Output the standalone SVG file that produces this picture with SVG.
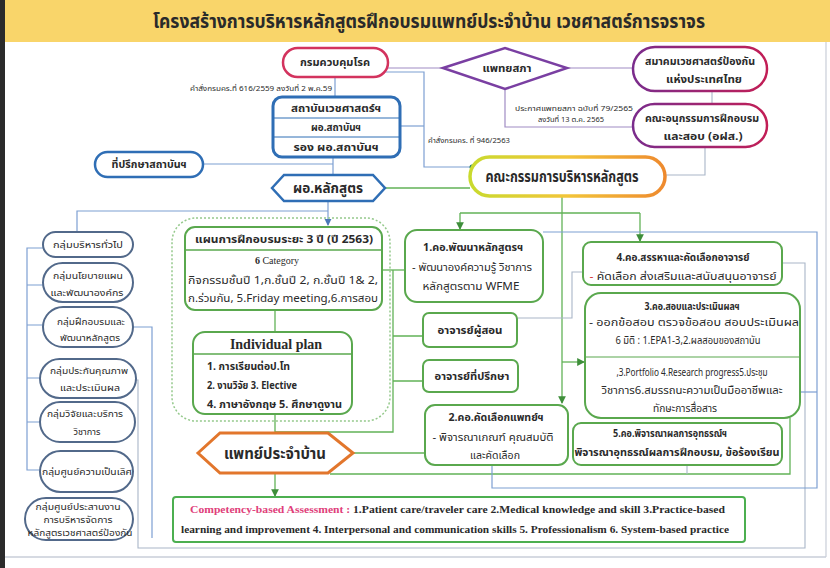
<svg xmlns="http://www.w3.org/2000/svg" width="830" height="568" viewBox="0 0 830 568">
<defs>
<style>
.th{font-family:'Noto Sans Thai','Noto Sans','DejaVu Sans',sans-serif;fill:#2a2a2a}
.se{font-family:'Liberation Serif','Noto Sans Thai',serif;fill:#2a2a2a}
.b{font-weight:bold}
.c{text-anchor:middle}
.gbox{fill:#fff;stroke:#5AA84E;stroke-width:2}
.lp{fill:#fff;stroke:#52698A;stroke-width:2}
.gl{fill:none;stroke:#62B257;stroke-width:1.3}
.bl{fill:none;stroke:#7D9FD2;stroke-width:1.2}
.pl{fill:none;stroke:#A08CC4;stroke-width:1.2}
.gy{fill:none;stroke:#A9B6C8;stroke-width:1.1}
</style>
<marker id="ag" viewBox="0 0 8 8" refX="7" refY="4" markerWidth="6" markerHeight="6" orient="auto"><path d="M0,0 L8,4 L0,8 z" fill="#3E8E3A"/></marker>
<marker id="ab" viewBox="0 0 8 8" refX="7" refY="4" markerWidth="6" markerHeight="6" orient="auto"><path d="M0,0 L8,4 L0,8 z" fill="#4A78B8"/></marker>
<linearGradient id="gOrange" x1="0" y1="0" x2="1" y2="0"><stop offset="0" stop-color="#C9DA2E"/><stop offset="0.5" stop-color="#F2C53A"/><stop offset="1" stop-color="#EE8A2E"/></linearGradient>
<linearGradient id="gPurple" x1="0" y1="0" x2="1" y2="0"><stop offset="0" stop-color="#7A2C8C"/><stop offset="1" stop-color="#C21E56"/></linearGradient>
</defs>
<rect x="0" y="0" width="830" height="568" fill="#fff"/>
<rect x="0" y="0" width="830" height="42" fill="#F9D56A"/>
<rect x="0" y="0" width="5" height="568" fill="#2b2b2b"/>
<line x1="826" y1="42" x2="826" y2="557" stroke="#C9CED8" stroke-width="1.2"/>
<line x1="5" y1="557" x2="826" y2="557" stroke="#C9CED8" stroke-width="1.5"/>
<text class="th b c" x="429" y="28" font-size="19" textLength="552" lengthAdjust="spacingAndGlyphs" fill="#3a2a12">โครงสร้างการบริหารหลักสูตรฝึกอบรมแพทย์ประจำบ้าน เวชศาสตร์การจราจร</text>

<g id="connectors">
<path class="bl" d="M335,76 V97"/>
<path class="bl" d="M333,157 V175"/>
<path class="bl" d="M203,164 H333"/>
<path class="pl" d="M386,68 H443"/>
<path class="bl" d="M384,72 H424 V167 H471"/>
<path class="bl" d="M400,126 H424"/>
<circle cx="472" cy="167" r="2.5" fill="#1E7A6A"/>
<path class="pl" d="M567,68 H632"/>
<path class="pl" d="M505,89 V127 H632"/>
<path class="gy" d="M712,91 V104"/>
<path class="gy" d="M705,147 V175 H665"/>
<path class="gl" d="M385,188 H470"/>
<path class="bl" d="M328,201 V225" marker-end="url(#ab)"/>
<path class="bl" d="M77,232 V211 H328"/>
<path class="bl" d="M43,248 H27 V470 H40 M27,285 H43 M27,325 H43 M27,378 H40 M27,422 H40"/>
<path class="bl" d="M133,327 H152 V538"/>
<path class="gy" d="M782,263 H805 V548 H138 V380 H135"/>
<path class="gl" d="M562,196 V403" marker-end="url(#ag)"/>
<path class="gl" d="M460,213 H640"/>
<path class="gl" d="M460,213 V229" marker-end="url(#ag)"/>
<path class="gl" d="M640,213 V241" marker-end="url(#ag)"/>
<path class="gl" d="M562,362 H584" marker-end="url(#ag)"/>
<path class="gl" d="M382,270 H405"/>
<path class="gl" d="M393,270 V432 H275"/>
<path class="gl" d="M393,336 H423 M393,381 H423"/>
<path class="gl" d="M275,310 V332"/>
<path class="gl" d="M275,414 V433"/>
<path class="gl" d="M275,473 V496" marker-end="url(#ag)"/>
<path class="gl" d="M353,453 H425"/>
<path class="gl" d="M330,474 H790 V418"/>
<path class="gy" d="M517,318 H572 V272 H583"/>
<path class="bl" d="M543,232 H817 V488 H492 V465"/>
<path class="bl" d="M800,392 H817"/>
<path class="gy" d="M687,465 V474"/>
</g>

<g id="n-kromkuabkum">
<rect x="283" y="48" width="105" height="29" rx="14.5" fill="#fff" stroke="#D3335E" stroke-width="2.5"/>
<text class="th b c" x="335" y="66" font-size="11" textLength="70" lengthAdjust="spacingAndGlyphs">กรมควบคุมโรค</text>
</g>
<text class="th" x="332" y="91" font-size="7" text-anchor="end" textLength="142" lengthAdjust="spacingAndGlyphs" fill="#555">คำสั่งกรมคร.ที่ 616/2559 ลงวันที่ 2 พ.ค.59</text>
<text class="th" x="428" y="143" font-size="7" textLength="82" lengthAdjust="spacingAndGlyphs" fill="#555">คำสั่งกรมคร. ที่ 946/2563</text>
<text class="th c" x="574" y="111" font-size="7" textLength="118" lengthAdjust="spacingAndGlyphs" fill="#555">ประกาศแพทยสภา ฉบับที่ 79/2565</text>
<text class="th c" x="571" y="122" font-size="7" textLength="66" lengthAdjust="spacingAndGlyphs" fill="#555">ลงวันที่ 13 ต.ค. 2565</text>

<g id="n-institute">
<rect x="273" y="97" width="127" height="60" rx="9" fill="#fff" stroke="#2F6EB5" stroke-width="3"/>
<line x1="273" y1="118" x2="400" y2="118" stroke="#2F6EB5" stroke-width="1"/>
<line x1="273" y1="137" x2="400" y2="137" stroke="#2F6EB5" stroke-width="1"/>
<text class="th b c" x="336" y="112" font-size="10.5" textLength="90" lengthAdjust="spacingAndGlyphs">สถาบันเวชศาสตร์ฯ</text>
<text class="th b c" x="336" y="131" font-size="10.5" textLength="50" lengthAdjust="spacingAndGlyphs">ผอ.สถาบันฯ</text>
<text class="th b c" x="336" y="151" font-size="10.5" textLength="85" lengthAdjust="spacingAndGlyphs">รอง ผอ.สถาบันฯ</text>
</g>

<g id="n-advisor">
<rect x="95" y="152" width="108" height="25" rx="12.5" fill="#fff" stroke="#2F6EB5" stroke-width="2.5"/>
<text class="th b c" x="149" y="168" font-size="10.5" textLength="75" lengthAdjust="spacingAndGlyphs">ที่ปรึกษาสถาบันฯ</text>
</g>

<g id="n-director">
<polygon points="272,188 284,175 373,175 385,188 373,201 284,201" fill="#fff" stroke="#2F6EB5" stroke-width="2.5"/>
<text class="th b c" x="328" y="193" font-size="14" textLength="70" lengthAdjust="spacingAndGlyphs">ผอ.หลักสูตร</text>
</g>

<g id="n-medcouncil">
<polygon points="443,68 505,48 567,68 505,89" fill="#fff" stroke="#7A3FA2" stroke-width="2.5"/>
<text class="th b c" x="507" y="72" font-size="10.5" textLength="49" lengthAdjust="spacingAndGlyphs">แพทยสภา</text>
</g>

<g id="n-association">
<rect x="633" y="47" width="134" height="44" rx="22" fill="#fff" stroke="url(#gPurple)" stroke-width="2.5"/>
<text class="th b c" x="700" y="65" font-size="10.5" textLength="110" lengthAdjust="spacingAndGlyphs">สมาคมเวชศาสตร์ป้องกัน</text>
<text class="th b c" x="704" y="83" font-size="10.5" textLength="76" lengthAdjust="spacingAndGlyphs">แห่งประเทศไทย</text>
</g>

<g id="n-subcommittee">
<rect x="633" y="104" width="134" height="43" rx="21.5" fill="#fff" stroke="url(#gPurple)" stroke-width="2.5"/>
<text class="th b c" x="702" y="122" font-size="10.5" textLength="114" lengthAdjust="spacingAndGlyphs">คณะอนุกรรมการฝึกอบรม</text>
<text class="th b c" x="703" y="140" font-size="10.5" textLength="79" lengthAdjust="spacingAndGlyphs">และสอบ (อฝส.)</text>
</g>

<g id="n-committee">
<rect x="470" y="157" width="195" height="39" rx="19.5" fill="#fff" stroke="url(#gOrange)" stroke-width="3.5"/>
<text class="th b c" x="562" y="182" font-size="15" textLength="153" lengthAdjust="spacingAndGlyphs">คณะกรรมการบริหารหลักสูตร</text>
</g>

<g id="n-group1">
<rect x="43" y="232" width="90" height="25" rx="12.5" class="lp"/>
<text class="th c" x="88" y="248" font-size="9.5" textLength="70" lengthAdjust="spacingAndGlyphs">กลุ่มบริหารทั่วไป</text>
</g>
<g id="n-group2">
<rect x="43" y="263" width="90" height="39" rx="19.5" class="lp"/>
<text class="th c" x="88" y="279" font-size="9.5" textLength="70" lengthAdjust="spacingAndGlyphs">กลุ่มนโยบายแผน</text>
<text class="th c" x="87" y="296" font-size="9.5" textLength="73" lengthAdjust="spacingAndGlyphs">และพัฒนาองค์กร</text>
</g>
<g id="n-group3">
<rect x="43" y="307" width="90" height="40" rx="20" class="lp"/>
<text class="th c" x="91" y="325" font-size="9.5" textLength="68" lengthAdjust="spacingAndGlyphs">กลุ่มฝึกอบรมและ</text>
<text class="th c" x="90" y="341" font-size="9.5" textLength="60" lengthAdjust="spacingAndGlyphs">พัฒนาหลักสูตร</text>
</g>
<g id="n-group4">
<rect x="40" y="359" width="96" height="39" rx="19.5" class="lp"/>
<text class="th c" x="89" y="374" font-size="9.5" textLength="78" lengthAdjust="spacingAndGlyphs">กลุ่มประกันคุณภาพ</text>
<text class="th c" x="90" y="391" font-size="9.5" textLength="60" lengthAdjust="spacingAndGlyphs">และประเมินผล</text>
</g>
<g id="n-group5">
<rect x="40" y="402" width="95" height="40" rx="20" class="lp"/>
<text class="th c" x="85" y="417" font-size="9.5" textLength="76" lengthAdjust="spacingAndGlyphs">กลุ่มวิจัยและบริการ</text>
<text class="th c" x="87" y="435" font-size="9.5" textLength="27" lengthAdjust="spacingAndGlyphs">วิชาการ</text>
</g>
<g id="n-group6">
<rect x="40" y="451" width="93" height="41" rx="20.5" class="lp"/>
<text class="th c" x="87" y="475" font-size="9.5" textLength="90" lengthAdjust="spacingAndGlyphs">กลุ่มศูนย์ความเป็นเลิศ</text>
</g>
<g id="n-group7">
<rect x="25" y="498" width="108" height="42" rx="21" class="lp"/>
<text class="th c" x="78" y="510" font-size="9" textLength="85" lengthAdjust="spacingAndGlyphs">กลุ่มศูนย์ประสานงาน</text>
<text class="th c" x="78" y="523" font-size="9" textLength="69" lengthAdjust="spacingAndGlyphs">การบริหารจัดการ</text>
<text class="th c" x="80" y="536" font-size="9" textLength="105" lengthAdjust="spacingAndGlyphs">หลักสูตรเวชศาสตร์ป้องกัน</text>
</g>

<rect x="172" y="218" width="218" height="203" rx="24" fill="none" stroke="#95C98C" stroke-width="1.5" stroke-dasharray="2 2"/>

<g id="n-plan">
<rect x="185" y="227" width="197" height="83" rx="10" class="gbox"/>
<line x1="185" y1="250" x2="382" y2="250" stroke="#5AA84E" stroke-width="1.5"/>
<text class="th b c" x="284" y="243" font-size="10.5" textLength="178" lengthAdjust="spacingAndGlyphs">แผนการฝึกอบรมระยะ 3 ปี (ปี 2563)</text>
<text class="se b c" x="277" y="264" font-size="10">6 <tspan font-weight="normal">Category</tspan></text>
<text class="th c" x="283" y="284" font-size="10.5" textLength="190" lengthAdjust="spacingAndGlyphs">กิจกรรมชั้นปี 1,ก.ชั้นปี 2, ก.ชั้นปี 1&amp; 2,</text>
<text class="th c" x="283" y="302" font-size="10.5" textLength="190" lengthAdjust="spacingAndGlyphs">ก.ร่วมกัน, 5.Friday meeting,6.การสอบ</text>
</g>

<g id="n-individual">
<rect x="193" y="332" width="159" height="82" rx="12" class="gbox"/>
<line x1="193" y1="354" x2="352" y2="354" stroke="#5AA84E" stroke-width="1.5"/>
<text class="se b c" x="276" y="349" font-size="14">Individual plan</text>
<text class="th b" x="207" y="370" font-size="10.5" textLength="83" lengthAdjust="spacingAndGlyphs">1. การเรียนต่อป.โท</text>
<text class="th b" x="207" y="389" font-size="10.5" textLength="90" lengthAdjust="spacingAndGlyphs">2. งานวิจัย 3. Elective</text>
<text class="th b" x="207" y="408" font-size="10.5" textLength="135" lengthAdjust="spacingAndGlyphs">4. ภาษาอังกฤษ 5. ศึกษาดูงาน</text>
</g>

<g id="n-resident">
<polygon points="198,453 220,433 328,433 353,453 328,473 220,473" fill="#fff" stroke="#E2762C" stroke-width="3"/>
<text class="th b c" x="275" y="459" font-size="16" textLength="102" lengthAdjust="spacingAndGlyphs">แพทย์ประจำบ้าน</text>
</g>

<g id="n-com1">
<rect x="405" y="230" width="138" height="72" rx="12" class="gbox"/>
<text class="th b c" x="473" y="251" font-size="10.5" textLength="100" lengthAdjust="spacingAndGlyphs">1.คอ.พัฒนาหลักสูตรฯ</text>
<text class="th c" x="472" y="271" font-size="10.5" textLength="120" lengthAdjust="spacingAndGlyphs">- พัฒนาองค์ความรู้ วิชาการ</text>
<text class="th c" x="471" y="290" font-size="10.5" textLength="97" lengthAdjust="spacingAndGlyphs">หลักสูตรตาม WFME</text>
</g>

<g id="n-teacher">
<rect x="423" y="313" width="94" height="34" rx="6" class="gbox"/>
<text class="th b c" x="470" y="334" font-size="10.5" textLength="65" lengthAdjust="spacingAndGlyphs">อาจารย์ผู้สอน</text>
</g>

<g id="n-advisor2">
<rect x="423" y="360" width="95" height="32" rx="6" class="gbox"/>
<text class="th b c" x="472" y="380" font-size="10.5" textLength="75" lengthAdjust="spacingAndGlyphs">อาจารย์ที่ปรึกษา</text>
</g>

<g id="n-com2">
<rect x="425" y="405" width="143" height="60" rx="10" class="gbox"/>
<text class="th b c" x="496" y="421" font-size="10" textLength="95" lengthAdjust="spacingAndGlyphs">2.คอ.คัดเลือกแพทย์ฯ</text>
<text class="th c" x="493" y="441" font-size="10.5" textLength="121" lengthAdjust="spacingAndGlyphs">- พิจารณาเกณฑ์ คุณสมบัติ</text>
<text class="th c" x="495" y="459" font-size="10.5" textLength="50" lengthAdjust="spacingAndGlyphs">และคัดเลือก</text>
</g>

<g id="n-com4">
<rect x="583" y="242" width="199" height="43" rx="8" class="gbox"/>
<text class="th b c" x="683" y="261" font-size="10.5" textLength="133" lengthAdjust="spacingAndGlyphs">4.คอ.สรรหาและคัดเลือกอาจารย์</text>
<text class="th c" x="683" y="280" font-size="10.5" textLength="187" lengthAdjust="spacingAndGlyphs"><tspan fill="#D32F2F">-</tspan> คัดเลือก ส่งเสริมและสนับสนุนอาจารย์</text>
</g>

<g id="n-com3">
<rect x="585" y="293" width="215" height="125" rx="16" class="gbox"/>
<line x1="585" y1="357" x2="800" y2="357" stroke="#5AA84E" stroke-width="1.2"/>
<text class="th b c" x="692" y="310" font-size="10.5" textLength="95" lengthAdjust="spacingAndGlyphs">3.คอ.สอบและประเมินผลฯ</text>
<text class="th c" x="694" y="326" font-size="10.5" textLength="210" lengthAdjust="spacingAndGlyphs">- ออกข้อสอบ ตรวจข้อสอบ สอบประเมินผล</text>
<text class="th c" x="688" y="344" font-size="10" textLength="145" lengthAdjust="spacingAndGlyphs">6 มิติ : 1.EPA1-3,2.ผลสอบของสถาบัน</text>
<text class="th c" x="692" y="376" font-size="10" textLength="151" lengthAdjust="spacingAndGlyphs">,3.Portfolio 4.Research progress5.ประชุม</text>
<text class="th c" x="692" y="394" font-size="10.5" textLength="181" lengthAdjust="spacingAndGlyphs">วิชาการ6.สมรรถนะความเป็นมืออาชีพและ</text>
<text class="th c" x="685" y="412" font-size="10.5" textLength="64" lengthAdjust="spacingAndGlyphs">ทักษะการสื่อสาร</text>
</g>

<g id="n-com5">
<rect x="573" y="423" width="209" height="42" rx="8" class="gbox"/>
<text class="th b c" x="670" y="437" font-size="10.5" textLength="114" lengthAdjust="spacingAndGlyphs">5.คอ.พิจารณาผลการอุทธรณ์ฯ</text>
<text class="th b c" x="677" y="456" font-size="10.5" textLength="205" lengthAdjust="spacingAndGlyphs">พิจารณาอุทธรณ์ผลการฝึกอบรม, ข้อร้องเรียน</text>
</g>

<g id="n-competency">
<rect x="173" y="497" width="572" height="45" rx="3" fill="#fff" stroke="#4CAF50" stroke-width="2"/>
<text class="se b" x="190" y="513" font-size="10" textLength="535" lengthAdjust="spacingAndGlyphs"><tspan fill="#E0407A">Competency-based Assessment : </tspan>1.Patient care/traveler care 2.Medical knowledge and skill 3.Practice-based</text>
<text class="se b" x="181" y="533" font-size="10" textLength="548" lengthAdjust="spacingAndGlyphs">learning and improvement 4. Interpersonal and communication skills 5. Professionalism 6. System-based practice</text>
</g>
</svg>
